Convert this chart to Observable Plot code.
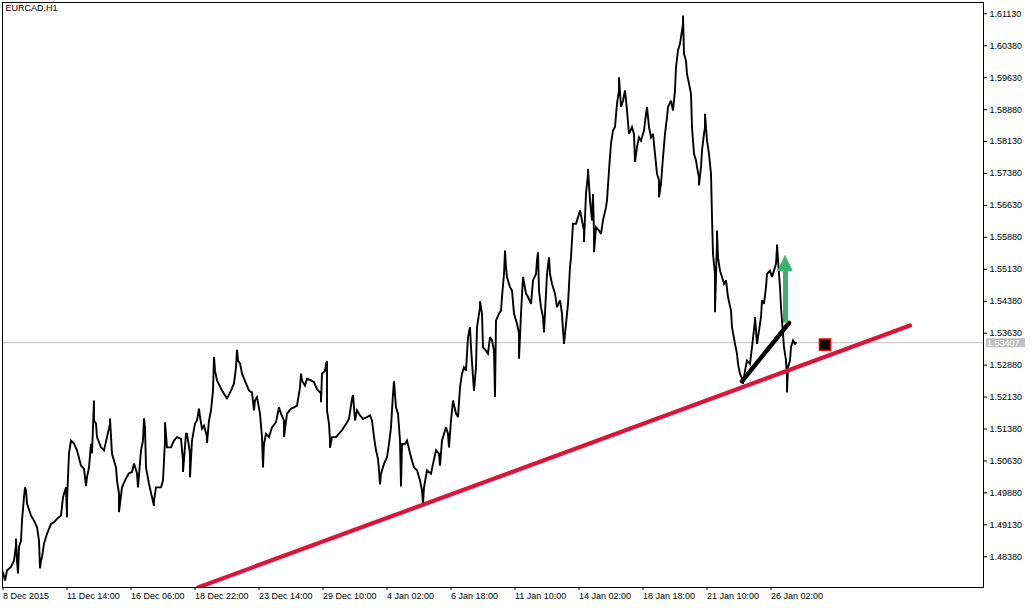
<!DOCTYPE html>
<html><head><meta charset="utf-8">
<script src="https://cdn.jsdelivr.net/npm/d3@7"></script>
<script src="https://cdn.jsdelivr.net/npm/@observablehq/plot@0.6"></script>
<style>html,body{margin:0;padding:0;background:#fff;} svg{display:block}</style>
</head><body><div id="chart"></div>
<script>
const symbolName = "EURCAD,H1";

// H1 bar index (one bar per pixel) and price
const barIndex = [
0,2,3,4,8,11,13,13,14,15,16,18,19,21,22,23,24,28,31,34,36,37,38,39,41,44,48,51,54,58,60,63,64,64,66,68,71,74,78,81,83,84,86,88,89,91,91,93,94,98,101,104,107,107,109,113,114,116,116,119,123,126,129,131,134,135,138,140,141,142,143,146,149,151,151,153,158,160,162,162,164,168,171,174,178,180,180,183,184,187,187,189,192,194,196,197,
199,201,204,204,206,208,210,211,212,214,218,221,224,228,231,233,234,235,237,239,243,246,249,251,252,254,257,259,260,261,263,266,269,273,276,278,281,281,284,288,291,294,297,298,299,302,304,308,311,314,318,318,319,322,323,324,324,326,327,327,329,333,336,339,343,346,349,350,352,354,357,360,364,367,369,371,373,375,376,377,378,381,384,386,388,390,391,393,395,397,398,399,402,404,408,411,414,417,419,420,421,424,428,429,
433,436,437,439,443,445,446,448,450,453,455,457,459,461,463,465,467,468,470,471,473,474,477,477,479,480,483,485,487,489,491,492,493,496,498,499,501,502,503,504,507,509,511,514,516,516,518,520,523,525,528,530,533,534,535,536,538,540,541,543,544,546,547,549,552,554,557,559,560,561,563,565,567,568,570,573,575,577,579,581,581,583,585,585,587,589,590,591,591,593,596,598,600,603,604,606,608,610,612,614,616,616,618,620,622,624,626,629,631,632,634,636,638,
641,643,644,646,648,650,652,654,656,656,658,660,662,664,665,668,670,672,673,675,677,678,680,680,681,683,684,686,688,689,691,693,694,696,696,698,699,701,702,702,704,706,708,709,710,712,712,714,714,715,717,719,721,723,725,728,729,732,734,735,737,739,740,742,744,747,749,752,752,754,756,758,759,761,763,764,767,769,771,773,774,774,776,777,778,779,781,783,784,784,785,787,788,790,792,793
];
const price = [
1.4802,1.4782,1.4794,1.4806,1.4814,1.4829,1.4865,1.4881,1.4829,1.4799,1.4861,1.4876,1.4923,1.4978,1.5001,1.4994,1.4963,1.4935,1.4923,1.4908,1.4876,1.4811,1.4829,1.4837,1.4869,1.4892,1.4915,1.4919,1.4927,1.4935,1.4978,1.5001,1.4931,1.4970,1.5081,1.5111,1.5104,1.5088,1.5052,1.5045,1.5004,1.5025,1.5048,1.5103,1.5081,1.5205,1.5158,1.5151,1.5119,1.5095,1.5088,1.5119,1.5150,1.5163,1.5080,1.5048,1.5017,1.4987,1.4943,1.5001,1.5022,1.5034,1.5037,1.5057,1.5034,1.5001,1.5088,1.5111,1.5163,1.5142,1.5048,1.5009,1.4978,1.4958,1.4970,1.5001,1.5001,1.5017,1.5111,1.5154,1.5095,1.5095,1.5111,1.5119,1.5115,1.5064,1.5037,1.5127,1.5127,1.5081,1.5025,1.5111,1.5151,1.5158,1.5186,1.5166,
1.5139,1.5146,1.5119,1.5105,1.5158,1.5182,1.5228,1.5307,1.5275,1.5252,1.5233,1.5221,1.5210,1.5228,1.5245,1.5283,1.5324,1.5299,1.5292,1.5268,1.5245,1.5228,1.5224,1.5182,1.5205,1.5213,1.5174,1.5119,1.5048,1.5104,1.5127,1.5119,1.5142,1.5154,1.5189,1.5174,1.5158,1.5119,1.5174,1.5186,1.5189,1.5193,1.5236,1.5268,1.5252,1.5240,1.5256,1.5252,1.5248,1.5232,1.5221,1.5201,1.5268,1.5275,1.5291,1.5297,1.5182,1.5150,1.5111,1.5094,1.5119,1.5119,1.5127,1.5135,1.5150,1.5162,1.5209,1.5218,1.5158,1.5182,1.5170,1.5162,1.5166,1.5170,1.5158,1.5119,1.5088,1.5068,1.5041,1.5008,1.5033,1.5056,1.5072,1.5103,1.5142,1.5221,1.5250,1.5189,1.5174,1.5111,1.5003,1.5103,1.5103,1.5111,1.5072,1.5048,1.5041,1.5017,1.4994,1.4962,1.5001,1.5041,1.5033,1.5045,
1.5088,1.5080,1.5052,1.5111,1.5142,1.5127,1.5095,1.5158,1.5205,1.5174,1.5166,1.5236,1.5268,1.5283,1.5275,1.5354,1.5377,1.5330,1.5260,1.5228,1.5283,1.5377,1.5424,1.5438,1.5409,1.5330,1.5322,1.5315,1.5354,1.5346,1.5322,1.5213,1.5393,1.5409,1.5416,1.5448,1.5502,1.5557,1.5518,1.5495,1.5471,1.5463,1.5409,1.5385,1.5362,1.5303,1.5409,1.5495,1.5456,1.5448,1.5432,1.5487,1.5502,1.5534,1.5553,1.5463,1.5424,1.5401,1.5365,1.5456,1.5502,1.5541,1.5502,1.5479,1.5456,1.5424,1.5440,1.5409,1.5369,1.5338,1.5385,1.5432,1.5518,1.5541,1.5620,1.5620,1.5635,1.5651,1.5628,1.5604,1.5577,1.5690,1.5737,1.5749,1.5675,1.5628,1.5690,1.5596,1.5553,1.5612,1.5604,1.5596,1.5628,1.5659,1.5675,1.5745,1.5808,1.5839,1.5847,1.5902,1.5933,1.5964,1.5894,1.5909,1.5933,1.5886,1.5831,1.5847,1.5831,1.5765,1.5800,1.5823,1.5815,
1.5839,1.5878,1.5894,1.5847,1.5823,1.5831,1.5784,1.5737,1.5722,1.5682,1.5714,1.5776,1.5831,1.5870,1.5894,1.5909,1.5886,1.5933,1.5988,1.6027,1.6043,1.6058,1.6089,1.6109,1.6019,1.6003,1.5972,1.5949,1.5925,1.5847,1.5784,1.5769,1.5753,1.5729,1.5710,1.5753,1.5792,1.5831,1.5847,1.5878,1.5815,1.5784,1.5737,1.5635,1.5549,1.5502,1.5412,1.5581,1.5604,1.5541,1.5510,1.5495,1.5479,1.5487,1.5448,1.5416,1.5377,1.5338,1.5315,1.5291,1.5268,1.5256,1.5244,1.5275,1.5299,1.5291,1.5330,1.5393,1.5401,1.5338,1.5369,1.5401,1.5440,1.5432,1.5471,1.5502,1.5510,1.5495,1.5510,1.5526,1.5565,1.5571,1.5502,1.5471,1.5424,1.5393,1.5330,1.5299,1.5260,1.5224,1.5283,1.5299,1.5330,1.5346,1.5338,1.53407
];

const xTickBars = [0, 64, 128, 192, 256, 320, 384, 448, 512, 576, 640, 704, 768];
const xTickLabels = ["8 Dec 2015", "11 Dec 14:00", "16 Dec 06:00", "18 Dec 22:00", "23 Dec 14:00", "29 Dec 10:00", "4 Jan 02:00", "6 Jan 18:00", "11 Jan 10:00", "14 Jan 02:00", "18 Jan 18:00", "21 Jan 10:00", "26 Jan 02:00"];
const yTicks = [1.48380, 1.49130, 1.49880, 1.50630, 1.51380, 1.52130, 1.52880, 1.53630, 1.54380, 1.55130, 1.55880, 1.56630, 1.57380, 1.58130, 1.58880, 1.59630, 1.60380, 1.61130];
const lastPrice = 1.53407;

// drawn objects
const trendBars = [195, 907];
const trendPrices = [1.4766, 1.5381];
const swingBars = [739, 786];
const swingPrices = [1.5250, 1.5387];
const arrowBar = 782.5;
const arrowFrom = 1.5387;
const arrowBase = 1.5508;
const arrowTip = 1.5546;
const markerBar = 822;
const markerPrice = 1.5336;

const series = barIndex.map((b, i) => ({b, p: price[i]}));
const trend = trendBars.map((b, i) => ({b, p: trendPrices[i]}));
const swing = swingBars.map((b, i) => ({b, p: swingPrices[i]}));
const head = [
  {b: arrowBar - 7.8, p: arrowBase},
  {b: arrowBar, p: arrowTip},
  {b: arrowBar + 7.8, p: arrowBase}
];

const chart = Plot.plot({
  width: 1036,
  height: 608,
  marginLeft: 2,
  marginRight: 53,
  marginTop: 2,
  marginBottom: 21,
  style: {fontFamily: "'Liberation Sans', Arial, sans-serif", fontSize: "9px", background: "#fff", color: "#000"},
  x: {type: "linear", domain: [-0.5, 980.5], label: null},
  y: {domain: [1.47659, 1.61395], label: null},
  marks: [
    Plot.ruleY([lastPrice], {stroke: "#c0c0c0", strokeWidth: 1}),
    Plot.line(series, {x: "b", y: "p", stroke: "#000", strokeWidth: 1.9, strokeLinejoin: "miter", strokeMiterlimit: 3}),
    Plot.line(trend, {x: "b", y: "p", stroke: "#dc143c", strokeWidth: 4.2, clip: true}),
    Plot.line(swing, {x: "b", y: "p", stroke: "#000", strokeWidth: 4.5}),
    Plot.ruleX([arrowBar], {y1: arrowFrom, y2: arrowBase, stroke: "#3cb371", strokeWidth: 5}),
    Plot.areaY(head, {x: "b", y1: arrowBase, y2: "p", fill: "#3cb371", curve: "linear"}),
    Plot.dot([{b: markerBar, p: markerPrice}], {x: "b", y: "p", symbol: "square", r: 6.3, fill: "#000", stroke: "#ff0000", strokeWidth: 1.5}),
    Plot.frame({stroke: "#000", strokeWidth: 1}),
    Plot.axisY(yTicks, {anchor: "right", label: null, tickSize: 3, tickPadding: 3, tickFormat: d => d.toFixed(5), fontSize: 9}),
    Plot.axisX(xTickBars, {anchor: "bottom", label: null, tickSize: 3, tickPadding: 2, textAnchor: "start", tickFormat: d => xTickLabels[xTickBars.indexOf(d)], fontSize: 9}),
    Plot.ruleY([lastPrice], {x1: 983.5, x2: 1022.5, stroke: "#c0c0c0", strokeWidth: 9, clip: false}),
    Plot.text([lastPrice], {x: 984, y: d => d, text: d => d.toFixed(5), textAnchor: "start", fill: "#fff", fontSize: 9}),
    Plot.text([symbolName], {frameAnchor: "top-left", dx: 3, dy: 2, textAnchor: "start", lineAnchor: "top", fill: "#000", fontSize: 9})
  ]
});
document.getElementById("chart").appendChild(chart);
</script>
</body></html>
